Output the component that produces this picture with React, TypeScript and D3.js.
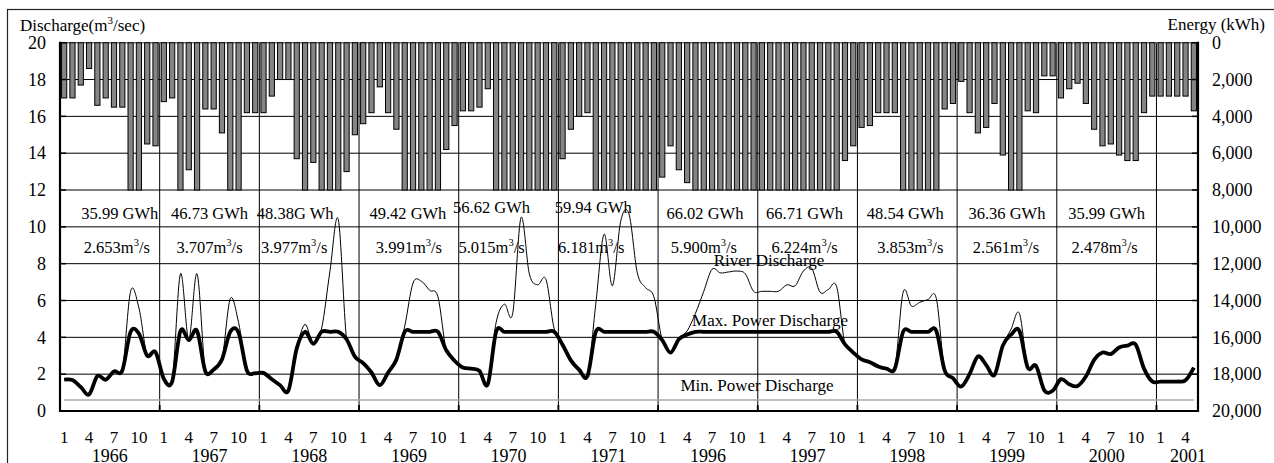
import React from 'react';
import * as d3 from 'd3';

// ---------- data ----------
const years = ['1966', '1967', '1968', '1969', '1970', '1971', '1996', '1997', '1998', '1999', '2000', '2001'];
const monthsInYear = [12, 12, 12, 12, 12, 12, 12, 12, 12, 12, 12, 5];
const monthTicks = [1, 4, 7, 10];

// monthly generated energy (kWh axis, right, inverted)
const energy = [
  3000, 3000, 2300, 1400, 3400, 3000, 3500, 3500, 8000, 8000, 5500, 5600, // 1966
  3200, 3000, 8000, 6900, 8000, 3600, 3600, 4900, 8000, 8000, 3800, 3800, // 1967
  3800, 2900, 2000, 2000, 6300, 8000, 6500, 8000, 8000, 8000, 7000, 5000, // 1968
  4400, 3800, 2400, 3800, 4700, 8000, 8000, 8000, 8000, 8000, 5800, 4500, // 1969
  3700, 3700, 3500, 2500, 8000, 8000, 8000, 8000, 8000, 8000, 8000, 8000, // 1970
  6300, 4700, 4000, 3800, 8000, 8000, 8000, 8000, 8000, 8000, 8000, 8000, // 1971
  7300, 5600, 6900, 7600, 8000, 8000, 8000, 8000, 8000, 8000, 8000, 8000, // 1996
  8000, 8000, 8000, 8000, 8000, 8000, 8000, 8000, 8000, 8000, 6400, 5600, // 1997
  4600, 4500, 3800, 3800, 3800, 8000, 8000, 8000, 8000, 8000, 3600, 3300, // 1998
  2100, 3800, 4900, 4600, 3300, 6100, 8000, 8000, 3700, 3800, 1800, 1800, // 1999
  3000, 2500, 2200, 3300, 4700, 5600, 5500, 6100, 6400, 6400, 3800, 2900, // 2000
  2900, 2900, 2900, 2900, 3700,                                           // 2001
];

// river discharge (m3/sec)
const river = [
  1.7, 1.68, 1.3, 0.9, 1.9, 1.7, 2.15, 2.2, 6.5, 5.6, 3.0, 3.2,
  1.75, 1.6, 7.45, 3.9, 7.45, 2.15, 2.25, 2.8, 6.1, 4.8, 2.2, 2.05,
  2.07, 1.72, 1.4, 1.12, 3.4, 4.7, 3.65, 4.5, 7.6, 10.4, 3.9, 2.95,
  2.6, 2.09, 1.4, 2.09, 2.8, 4.6, 6.95, 7.05, 6.55, 6.2, 3.3, 2.73,
  2.36, 2.3, 2.18, 1.45, 4.8, 5.8, 5.3, 10.5, 7.45, 6.85, 7.15, 4.45,
  3.6, 2.75, 2.24, 1.9, 5.8, 9.6, 6.8, 10.3, 10.7, 7.5, 6.7, 6.2,
  3.85, 3.17, 3.9, 4.35, 5.3, 6.5, 7.7, 7.5, 7.55, 7.6, 7.45, 6.5,
  6.5, 6.5, 6.5, 6.85, 6.8, 7.6, 7.75, 6.45, 6.6, 6.75, 3.62, 3.17,
  2.8, 2.65, 2.42, 2.3, 2.3, 6.45, 5.7, 5.9, 6.05, 6.1, 2.2, 1.78,
  1.33, 2.0, 2.96, 2.5, 1.95, 3.55, 4.45, 5.3, 2.36, 2.45, 1.12, 1.1,
  1.73, 1.45, 1.36, 1.87, 2.78, 3.18, 3.09, 3.45, 3.55, 3.6, 2.3, 1.6,
  1.6, 1.6, 1.6, 1.67, 2.36,
];

// power (turbined) discharge (m3/sec)
const power = [
  1.7, 1.68, 1.3, 0.9, 1.9, 1.7, 2.15, 2.2, 4.3, 4.2, 3.0, 3.2,
  1.75, 1.6, 4.35, 3.85, 4.35, 2.15, 2.25, 2.8, 4.3, 4.25, 2.2, 2.05,
  2.07, 1.72, 1.4, 1.12, 3.4, 4.3, 3.65, 4.3, 4.3, 4.3, 3.9, 2.95,
  2.6, 2.09, 1.4, 2.09, 2.8, 4.3, 4.3, 4.3, 4.3, 4.3, 3.3, 2.73,
  2.36, 2.3, 2.18, 1.45, 4.3, 4.3, 4.3, 4.3, 4.3, 4.3, 4.3, 4.3,
  3.6, 2.75, 2.24, 1.9, 4.3, 4.3, 4.3, 4.3, 4.3, 4.3, 4.3, 4.3,
  3.85, 3.17, 3.9, 4.15, 4.3, 4.3, 4.3, 4.3, 4.3, 4.3, 4.3, 4.3,
  4.3, 4.3, 4.3, 4.3, 4.3, 4.3, 4.3, 4.3, 4.3, 4.3, 3.62, 3.17,
  2.8, 2.65, 2.42, 2.3, 2.3, 4.3, 4.3, 4.3, 4.3, 4.35, 2.2, 1.78,
  1.33, 2.0, 2.96, 2.5, 1.95, 3.55, 4.15, 4.35, 2.36, 2.45, 1.12, 1.1,
  1.73, 1.45, 1.36, 1.87, 2.78, 3.18, 3.09, 3.45, 3.55, 3.6, 2.3, 1.6,
  1.6, 1.6, 1.6, 1.67, 2.36,
];

const minPowerDischarge = 0.6;

const gwhLabels = ['35.99 GWh', '46.73 GWh', '48.38G Wh', '49.42 GWh', '56.62 GWh', '59.94 GWh',
  '66.02 GWh', '66.71 GWh', '48.54 GWh', '36.36 GWh', '35.99 GWh'];
const flowLabels = ['2.653', '3.707', '3.977', '3.991', '5.015', '6.181', '5.900', '6.224', '3.853', '2.561', '2.478'];

const leftTicks = d3.range(0, 21, 2);
const rightTicks = d3.range(0, 20001, 2000);

// label layout offsets (px, relative to year centre)
const gwhDx = [10, 0, -14, -1, -17, -15, -3, -3, -2, 0, 0];
const gwhDy = [0, 0, 0, 0, -6, -6, 0, 0, 0, 0, 0];
const flowDx = [7, 0, -15, 0, -17, -17, -4, -3, 3, -1, -2];

const FONT = "'Liberation Serif', 'Times New Roman', Times, serif";

export default function App() {
  const W = 1274, H = 463;
  const left = 60, right = 1198, top = 42.7, bottom = 411;
  const n = energy.length;
  const x = d3.scaleLinear().domain([0, n]).range([left, right]);
  const yL = d3.scaleLinear().domain([0, 20]).range([bottom, top]);
  const yR = d3.scaleLinear().domain([0, 20000]).range([top, bottom]);

  const starts: number[] = [];
  let acc = 0;
  monthsInYear.forEach((m) => { starts.push(acc); acc += m; });

  const curve = d3.curveCardinal.tension(0);
  const line = d3.line<number>()
    .x((_, i) => x(i + 0.5))
    .y((d) => yL(d))
    .curve(curve);
  // region above the power-discharge curve: river line is only visible there
  const aboveArea = d3.area<number>()
    .x((_, i) => x(i + 0.5))
    .y0(0)
    .y1((d) => yL(d))
    .curve(curve);

  const barW = 5.2;
  const yearCenter = (k: number) => (x(starts[k]) + x(starts[k] + 12)) / 2;

  return (
    <svg width={W} height={H} style={{ position: 'absolute', left: 0, top: 0, background: '#fff' }}
      fontFamily={FONT}>
      <defs>
        <clipPath id="abovePower">
          <path d={aboveArea(power) || ''} />
        </clipPath>
      </defs>
      <rect x={0} y={0} width={W} height={H} fill="#fff" />
      {/* outer frame */}
      <rect x={7.5} y={9.5} width={1290} height={500} fill="none" stroke="#222" strokeWidth={1.2} />

      {/* horizontal gridlines */}
      {leftTicks.filter((t) => t > 0 && t < 20).map((t) => (
        <line key={'h' + t} x1={left} x2={right} y1={yL(t)} y2={yL(t)} stroke="#000" strokeWidth={1} />
      ))}
      {/* vertical year gridlines */}
      {starts.slice(1).map((s) => (
        <line key={'v' + s} x1={x(s)} x2={x(s)} y1={top} y2={bottom} stroke="#000" strokeWidth={1} />
      ))}
      {/* top line */}
      <line x1={left} x2={right} y1={top} y2={top} stroke="#777" strokeWidth={1.5} />

      {/* energy bars hanging from top */}
      {energy.map((e, i) => (
        <rect key={'b' + i} x={x(i + 0.5) - barW / 2} y={top} width={barW} height={yR(e) - top}
          fill="#858585" stroke="#000" strokeWidth={1} />
      ))}

      {/* min power discharge */}
      <line x1={x(0.5)} x2={x(n - 0.5)} y1={yL(minPowerDischarge)} y2={yL(minPowerDischarge)}
        stroke="#a8a8a8" strokeWidth={1.6} />

      {/* river discharge */}
      <path d={line(river) || ''} fill="none" stroke="#000" strokeWidth={1} clipPath="url(#abovePower)" />
      {/* power discharge */}
      <path d={line(power) || ''} fill="none" stroke="#000" strokeWidth={3.8} strokeLinejoin="round" />

      {/* axes */}
      <line x1={left} x2={left} y1={top - 1} y2={bottom + 1} stroke="#000" strokeWidth={2.2} />
      <line x1={right} x2={right} y1={top - 1} y2={bottom + 1} stroke="#000" strokeWidth={2.2} />
      <line x1={left - 1} x2={right + 1} y1={bottom} y2={bottom} stroke="#000" strokeWidth={2.2} />
      {leftTicks.map((t) => (
        <line key={'lt' + t} x1={left} x2={left + 6} y1={yL(t)} y2={yL(t)} stroke="#000" strokeWidth={1.5} />
      ))}
      {rightTicks.map((t) => (
        <line key={'rt' + t} x1={right - 6} x2={right} y1={yR(t)} y2={yR(t)} stroke="#000" strokeWidth={1.5} />
      ))}
      {starts.slice(1).map((s) => (
        <line key={'bt' + s} x1={x(s)} x2={x(s)} y1={bottom - 6} y2={bottom} stroke="#000" strokeWidth={1.8} />
      ))}

      {/* left tick labels */}
      {leftTicks.map((t) => (
        <text key={'ll' + t} x={46} y={yL(t)} dy="0.35em" textAnchor="end" fontSize={18}>{t}</text>
      ))}
      {/* right tick labels */}
      {rightTicks.map((t) => (
        <text key={'rl' + t} x={1212} y={yR(t)} dy="0.35em" textAnchor="start" fontSize={18}>{d3.format(',')(t)}</text>
      ))}

      {/* month labels */}
      {years.map((yr, k) => monthTicks.filter((m) => m <= monthsInYear[k]).map((m) => (
        <text key={yr + 'm' + m} x={x(starts[k] + m - 0.5)} y={443} textAnchor="middle" fontSize={17}>{m}</text>
      )))}
      {/* year labels */}
      {years.map((yr, k) => (
        <text key={'y' + yr} x={monthsInYear[k] === 12 ? yearCenter(k) : x(n) - 10} y={462}
          textAnchor="middle" fontSize={18}>{yr}</text>
      ))}

      {/* axis titles */}
      <text x={20} y={31} fontSize={17}>Discharge(m<tspan dy={-7} fontSize={11}>3</tspan><tspan dy={7}>/sec)</tspan></text>
      <text x={1265} y={30} fontSize={17} textAnchor="end">Energy (kWh)</text>

      {/* annual annotations */}
      {gwhLabels.map((g, k) => (
        <text key={'g' + k} x={yearCenter(k) + gwhDx[k]} y={218.5 + gwhDy[k]} textAnchor="middle" fontSize={16.5}>{g}</text>
      ))}
      {flowLabels.map((f, k) => (
        <text key={'f' + k} x={yearCenter(k) + flowDx[k]} y={253} textAnchor="middle" fontSize={16.5}>
          {f}m<tspan dy={-7} fontSize={10.5}>3</tspan><tspan dy={7}>/s</tspan>
        </text>
      ))}

      {/* series labels */}
      <text x={769} y={266} textAnchor="middle" fontSize={17}>River Discharge</text>
      <text x={770} y={326} textAnchor="middle" fontSize={17}>Max. Power Discharge</text>
      <text x={757} y={391} textAnchor="middle" fontSize={17}>Min. Power Discharge</text>
    </svg>
  );
}
